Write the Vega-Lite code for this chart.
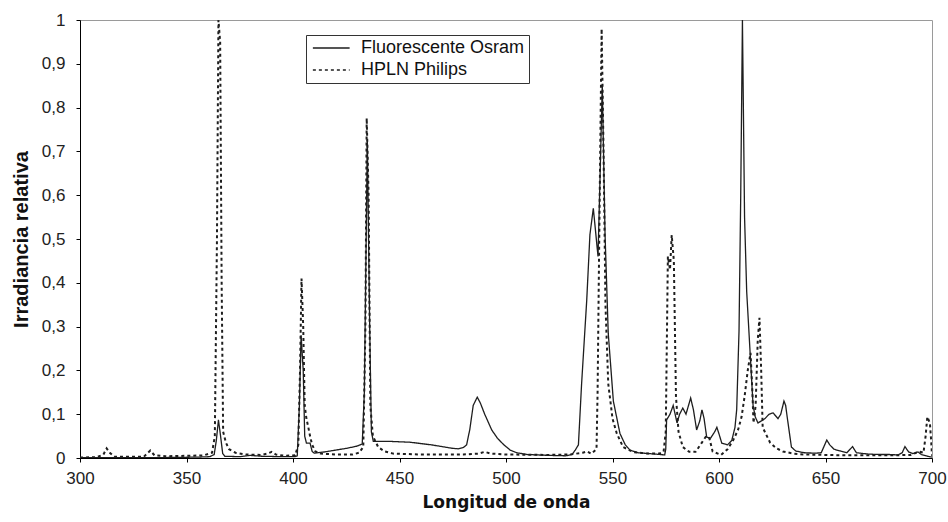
{
  "$schema": "https://vega.github.io/schema/vega-lite/v6.json",
  "width": 852,
  "height": 438,
  "autosize": {"type": "none"},
  "padding": {"left": 80, "top": 20, "right": 16, "bottom": 64},
  "background": "white",
  "config": {"view": {"stroke": "#9a9a9a", "strokeWidth": 1}, "font": "Liberation Sans"},
  "datasets": {
    "osram": [
      {"x":300,"y":0.001},{"x":320,"y":0.001},{"x":340,"y":0.001},{"x":355,"y":0.002},{"x":361,"y":0.003},{"x":363,"y":0.008},{"x":364,"y":0.04},{"x":365,"y":0.087},{"x":366,"y":0.05},{"x":367,"y":0.01},{"x":368,"y":0.004},{"x":375,"y":0.003},{"x":380,"y":0.006},{"x":385,"y":0.004},{"x":395,"y":0.003},{"x":401,"y":0.003},{"x":402,"y":0.005},{"x":403,"y":0.12},{"x":403.8,"y":0.28},{"x":404.8,"y":0.2},{"x":405.5,"y":0.05},{"x":406.3,"y":0.034},{"x":408,"y":0.034},{"x":409,"y":0.015},{"x":410,"y":0.011},{"x":415,"y":0.014},{"x":420,"y":0.018},{"x":425,"y":0.022},{"x":430,"y":0.027},{"x":432.5,"y":0.032},{"x":433.5,"y":0.15},{"x":434.9,"y":0.726},{"x":436,"y":0.3},{"x":436.8,"y":0.06},{"x":437.7,"y":0.038},{"x":445,"y":0.038},{"x":450,"y":0.037},{"x":455,"y":0.036},{"x":460,"y":0.033},{"x":465,"y":0.03},{"x":470,"y":0.026},{"x":475,"y":0.022},{"x":477.5,"y":0.021},{"x":480,"y":0.024},{"x":481.5,"y":0.03},{"x":483,"y":0.065},{"x":484.6,"y":0.12},{"x":486.5,"y":0.139},{"x":488,"y":0.125},{"x":490,"y":0.1},{"x":493.3,"y":0.064},{"x":496,"y":0.045},{"x":499,"y":0.03},{"x":502,"y":0.018},{"x":505,"y":0.012},{"x":510,"y":0.008},{"x":520,"y":0.006},{"x":528,"y":0.005},{"x":531,"y":0.008},{"x":532.5,"y":0.018},{"x":534,"y":0.03},{"x":535.5,"y":0.17},{"x":537.9,"y":0.36},{"x":539.4,"y":0.51},{"x":541,"y":0.57},{"x":542,"y":0.52},{"x":543.2,"y":0.46},{"x":544.2,"y":0.65},{"x":545.2,"y":0.852},{"x":546.5,"y":0.51},{"x":548,"y":0.285},{"x":550.4,"y":0.13},{"x":553.5,"y":0.056},{"x":556,"y":0.03},{"x":558.2,"y":0.018},{"x":562,"y":0.012},{"x":570,"y":0.009},{"x":574.5,"y":0.007},{"x":575,"y":0.02},{"x":575.4,"y":0.087},{"x":577,"y":0.1},{"x":578.5,"y":0.12},{"x":580.3,"y":0.08},{"x":581.5,"y":0.1},{"x":583,"y":0.114},{"x":584.5,"y":0.1},{"x":586.7,"y":0.137},{"x":588,"y":0.11},{"x":589.5,"y":0.064},{"x":591,"y":0.085},{"x":592,"y":0.11},{"x":593,"y":0.09},{"x":594.2,"y":0.048},{"x":596,"y":0.045},{"x":598,"y":0.06},{"x":599,"y":0.07},{"x":600,"y":0.055},{"x":601.3,"y":0.034},{"x":604,"y":0.03},{"x":606,"y":0.04},{"x":607.5,"y":0.07},{"x":608.3,"y":0.11},{"x":609.4,"y":0.29},{"x":610.2,"y":0.6},{"x":611,"y":1.0},{"x":612,"y":0.55},{"x":613,"y":0.38},{"x":614.5,"y":0.25},{"x":616,"y":0.12},{"x":617,"y":0.094},{"x":618.3,"y":0.08},{"x":620,"y":0.085},{"x":621.6,"y":0.09},{"x":623.5,"y":0.1},{"x":625.4,"y":0.103},{"x":627.7,"y":0.09},{"x":629,"y":0.1},{"x":630.5,"y":0.13},{"x":631.3,"y":0.12},{"x":632,"y":0.094},{"x":634,"y":0.025},{"x":636,"y":0.016},{"x":640,"y":0.012},{"x":645,"y":0.011},{"x":648,"y":0.012},{"x":650.6,"y":0.041},{"x":652,"y":0.03},{"x":654,"y":0.02},{"x":657,"y":0.016},{"x":660,"y":0.012},{"x":662.7,"y":0.026},{"x":664.5,"y":0.012},{"x":670,"y":0.009},{"x":675,"y":0.008},{"x":680,"y":0.008},{"x":684,"y":0.007},{"x":686,"y":0.012},{"x":687.3,"y":0.026},{"x":689,"y":0.014},{"x":691,"y":0.01},{"x":693.4,"y":0.014},{"x":695,"y":0.008},{"x":698,"y":0.004},{"x":700,"y":0.002}
    ],
    "philips": [
      {"x":300,"y":0.001},{"x":308,"y":0.002},{"x":311,"y":0.008},{"x":312.5,"y":0.022},{"x":314,"y":0.012},{"x":316,"y":0.003},{"x":330,"y":0.003},{"x":333,"y":0.017},{"x":335,"y":0.006},{"x":340,"y":0.004},{"x":350,"y":0.005},{"x":358,"y":0.006},{"x":362,"y":0.012},{"x":363.3,"y":0.05},{"x":364.3,"y":0.5},{"x":365,"y":1.0},{"x":365.8,"y":0.95},{"x":366.5,"y":0.4},{"x":367.2,"y":0.06},{"x":368.5,"y":0.035},{"x":370,"y":0.02},{"x":373,"y":0.012},{"x":378,"y":0.008},{"x":385,"y":0.007},{"x":388,"y":0.01},{"x":390,"y":0.014},{"x":392,"y":0.008},{"x":396,"y":0.005},{"x":401,"y":0.006},{"x":402.5,"y":0.03},{"x":403.3,"y":0.2},{"x":404,"y":0.41},{"x":404.8,"y":0.3},{"x":405.5,"y":0.12},{"x":406.3,"y":0.09},{"x":407.2,"y":0.07},{"x":408,"y":0.05},{"x":409,"y":0.03},{"x":410.5,"y":0.015},{"x":413,"y":0.01},{"x":420,"y":0.008},{"x":428,"y":0.008},{"x":431,"y":0.012},{"x":433,"y":0.025},{"x":434,"y":0.3},{"x":434.6,"y":0.776},{"x":435.5,"y":0.6},{"x":436.3,"y":0.12},{"x":437.5,"y":0.05},{"x":440,"y":0.025},{"x":443,"y":0.015},{"x":447,"y":0.01},{"x":460,"y":0.008},{"x":480,"y":0.008},{"x":487,"y":0.01},{"x":490,"y":0.014},{"x":493,"y":0.01},{"x":500,"y":0.008},{"x":520,"y":0.007},{"x":530,"y":0.008},{"x":536,"y":0.012},{"x":538,"y":0.015},{"x":540,"y":0.01},{"x":542.5,"y":0.02},{"x":543,"y":0.15},{"x":544,"y":0.6},{"x":544.9,"y":0.98},{"x":545.8,"y":0.7},{"x":546.7,"y":0.35},{"x":548,"y":0.17},{"x":550,"y":0.09},{"x":552,"y":0.056},{"x":555,"y":0.025},{"x":560,"y":0.013},{"x":567,"y":0.01},{"x":572,"y":0.01},{"x":574,"y":0.015},{"x":575,"y":0.06},{"x":576,"y":0.46},{"x":577,"y":0.43},{"x":577.8,"y":0.509},{"x":578.8,"y":0.45},{"x":579.8,"y":0.14},{"x":581,"y":0.06},{"x":583,"y":0.025},{"x":586,"y":0.014},{"x":589,"y":0.014},{"x":591.8,"y":0.034},{"x":594,"y":0.05},{"x":595.5,"y":0.045},{"x":597,"y":0.015},{"x":601,"y":0.007},{"x":604,"y":0.02},{"x":606.7,"y":0.041},{"x":609,"y":0.065},{"x":610.6,"y":0.094},{"x":612,"y":0.14},{"x":613.5,"y":0.2},{"x":614.8,"y":0.24},{"x":615.6,"y":0.16},{"x":616.2,"y":0.08},{"x":617.2,"y":0.12},{"x":618.2,"y":0.27},{"x":619,"y":0.32},{"x":619.8,"y":0.2},{"x":620.5,"y":0.07},{"x":622.5,"y":0.05},{"x":624,"y":0.035},{"x":627,"y":0.022},{"x":630,"y":0.015},{"x":635,"y":0.01},{"x":640,"y":0.008},{"x":650,"y":0.007},{"x":660,"y":0.006},{"x":670,"y":0.006},{"x":680,"y":0.006},{"x":690,"y":0.007},{"x":692.5,"y":0.012},{"x":694.5,"y":0.014},{"x":696,"y":0.012},{"x":697,"y":0.05},{"x":697.8,"y":0.094},{"x":699,"y":0.08},{"x":699.6,"y":0.04},{"x":700,"y":0.005}
    ]
  },
  "layer": [
    {
      "data": {"name": "philips"},
      "mark": {"type": "line", "color": "#1e1e1e", "strokeWidth": 2, "clip": true},
      "encoding": {
        "x": {"field": "x", "type": "quantitative",
          "scale": {"domain": [300, 700], "nice": false, "zero": false},
          "axis": {"values": [300,350,400,450,500,550,600,650,700], "title": "Longitud de onda",
            "titleFont": "DejaVu Sans", "titleFontSize": 17, "titleFontWeight": "bold", "titleColor": "#111", "titlePadding": 8,
            "labelFontSize": 17, "labelColor": "#222", "labelPadding": 8, "labelFlush": false, "labelOverlap": false,
            "tickSize": 4, "tickColor": "#000", "domainColor": "#000", "grid": false}},
        "y": {"field": "y", "type": "quantitative",
          "scale": {"domain": [0, 1], "nice": false},
          "axis": {"values": [0,0.1,0.2,0.3,0.4,0.5,0.6,0.7,0.8,0.9,1],
            "labelExpr": "replace(format(datum.value, '.1~f'), '.', ',')",
            "title": "Irradiancia relativa", "titleFontSize": 20, "titleFontWeight": "bold", "titleColor": "#111", "titlePadding": 10,
            "labelFontSize": 17, "labelColor": "#222", "labelPadding": 11, "labelFlush": false, "labelOverlap": false,
            "tickSize": 4, "tickColor": "#000", "domainColor": "#000", "grid": false}},
        "strokeDash": {"datum": "HPLN Philips", "type": "nominal",
          "scale": {"domain": ["Fluorescente Osram", "HPLN Philips"], "range": [[1, 0], [3, 3]]},
          "legend": {"orient": "none", "legendX": 226, "legendY": 15, "title": null,
            "symbolType": "M-1,0H5", "symbolSize": 150, "symbolStrokeWidth": 1.5, "symbolStrokeColor": "#222",
            "labelFontSize": 18, "labelColor": "#111", "labelOffset": 33, "labelLimit": 400,
            "padding": 4, "rowPadding": 4,
            "strokeColor": "#333", "fillColor": "white"}}
      }
    },
    {
      "data": {"name": "osram"},
      "mark": {"type": "line", "color": "#1e1e1e", "strokeWidth": 1.3, "clip": true},
      "encoding": {
        "x": {"field": "x", "type": "quantitative"},
        "y": {"field": "y", "type": "quantitative"},
        "strokeDash": {"datum": "Fluorescente Osram", "type": "nominal"}
      }
    }
  ]
}
